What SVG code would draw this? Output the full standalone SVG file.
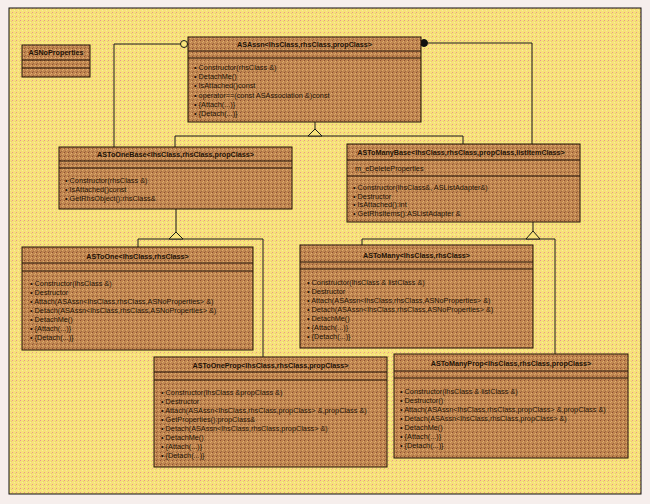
<svg xmlns="http://www.w3.org/2000/svg" width="650" height="504" viewBox="0 0 650 504">
<defs>
<pattern id="bg" width="4" height="4" patternUnits="userSpaceOnUse">
<rect width="4" height="4" fill="#f7e27a"/>
<rect x="0" y="0" width="1" height="1" fill="#e8968c"/>
<rect x="2" y="2" width="1" height="1" fill="#fbeaa0"/>
<rect x="3" y="1" width="1" height="1" fill="#ead070"/>
</pattern>
<pattern id="bx" width="4" height="4" patternUnits="userSpaceOnUse">
<rect width="4" height="4" fill="#c08650"/>
<rect x="0" y="0" width="1" height="1" fill="#8c4c32"/>
<rect x="2" y="2" width="1" height="1" fill="#dca66c"/>
<rect x="1" y="3" width="1" height="1" fill="#9c6a40"/>
<rect x="3" y="1" width="1" height="1" fill="#e0b070"/>
</pattern>
</defs>
<style>
.box{fill:url(#bx);stroke:#241408;stroke-width:1}
.div{stroke:#241408;stroke-width:1}
.t{font-family:"Liberation Sans",Arial,sans-serif;font-size:7.2px;font-weight:bold;fill:#1e1206;text-anchor:middle}
.m{font-family:"Liberation Sans",Arial,sans-serif;font-size:7.3px;fill:#1e1206}
.conn{fill:none;stroke:#1a1a1a;stroke-width:1}
.tri{fill:#f7e27a;stroke:#1a1a1a;stroke-width:1}
</style>
<rect width="650" height="504" fill="#f6eeec"/>
<rect x="9" y="8" width="632" height="486" fill="url(#bg)" stroke="#111" stroke-width="1"/>

<g id="connectors">
<circle cx="184" cy="44" r="3.5" fill="#f7e27a" stroke="#1a1a1a"/>
<path class="conn" d="M180.5,44 H114 V147"/>
<circle cx="424" cy="43" r="3.5" fill="#111" stroke="#111"/>
<path class="conn" d="M427.5,43 H532 V144"/>
<path class="conn" d="M315,122 V129"/>
<path class="conn" d="M175,147 V136 H463 V144"/>
<path class="tri" d="M315,129 L308,136 L322,136 Z"/>
<path class="conn" d="M176,209 V232"/>
<path class="conn" d="M138,247 V239 H263 V357"/>
<path class="tri" d="M176,232 L169,239 L183,239 Z"/>
<path class="conn" d="M533,222 V231"/>
<path class="conn" d="M362,245 V239 H555 V354"/>
<path class="tri" d="M533,231 L526,239 L540,239 Z"/>
</g>

<g id="ASNoProperties">
<rect class="box" x="22" y="45" width="68" height="32"/>
<line class="div" x1="22" y1="60" x2="90" y2="60"/>
<line class="div" x1="22" y1="68" x2="90" y2="68"/>
<text class="t" x="56" y="55">ASNoProperties</text>
</g>

<g id="ASAssn">
<rect class="box" x="188" y="37" width="233" height="85"/>
<line class="div" x1="188" y1="51" x2="421" y2="51"/>
<line class="div" x1="188" y1="58" x2="421" y2="58"/>
<text class="t" x="304.5" y="46.5">ASAssn&lt;lhsClass,rhsClass,propClass&gt;</text>
<text class="m" x="194" y="70">• Constructor(rhsClass &amp;)</text>
<text class="m" x="194" y="79">• DetachMe()</text>
<text class="m" x="194" y="88">• IsAttached()const</text>
<text class="m" x="194" y="97.5">• operator==(const ASAssociation &amp;)const</text>
<text class="m" x="194" y="106.5">• {Attach(...)}</text>
<text class="m" x="194" y="115.5">• {Detach(...)}</text>
</g>

<g id="ASToOneBase">
<rect class="box" x="59" y="147" width="233" height="62"/>
<line class="div" x1="59" y1="161" x2="292" y2="161"/>
<line class="div" x1="59" y1="168" x2="292" y2="168"/>
<text class="t" x="175.5" y="156.5">ASToOneBase&lt;lhsClass,rhsClass,propClass&gt;</text>
<text class="m" x="65" y="182.5">• Constructor(rhsClass &amp;)</text>
<text class="m" x="65" y="191.5">• IsAttached()const</text>
<text class="m" x="65" y="201">• GetRhsObject():rhsClass&amp;</text>
</g>

<g id="ASToManyBase">
<rect class="box" x="347" y="144" width="233" height="78"/>
<line class="div" x1="347" y1="160" x2="580" y2="160"/>
<line class="div" x1="347" y1="176" x2="580" y2="176"/>
<text class="t" x="461" y="155">ASToManyBase&lt;lhsClass,rhsClass,propClass,listItemClass&gt;</text>
<text class="m" x="355" y="170.5">m_eDeleteProperties</text>
<text class="m" x="353" y="189.5">• Constructor(lhsClass&amp;, ASListAdapter&amp;)</text>
<text class="m" x="353" y="198.5">• Destructor</text>
<text class="m" x="353" y="207">• IsAttached():int</text>
<text class="m" x="353" y="216">• GetRhsItems():ASListAdapter &amp;</text>
</g>

<g id="ASToOne">
<rect class="box" x="22" y="247" width="231" height="103"/>
<line class="div" x1="22" y1="263" x2="253" y2="263"/>
<line class="div" x1="22" y1="271" x2="253" y2="271"/>
<text class="t" x="137.5" y="258.5">ASToOne&lt;lhsClass,rhsClass&gt;</text>
<text class="m" x="30" y="285.5">• Constructor(lhsClass &amp;)</text>
<text class="m" x="30" y="294.6">• Destructor</text>
<text class="m" x="30" y="303.7">• Attach(ASAssn&lt;lhsClass,rhsClass,ASNoProperties&gt; &amp;)</text>
<text class="m" x="30" y="312.8">• Detach(ASAssn&lt;lhsClass,rhsClass,ASNoProperties&gt; &amp;)</text>
<text class="m" x="30" y="321.9">• DetachMe()</text>
<text class="m" x="30" y="331">• {Attach(...)}</text>
<text class="m" x="30" y="340.1">• {Detach(...)}</text>
</g>

<g id="ASToMany">
<rect class="box" x="300" y="245" width="233" height="103"/>
<line class="div" x1="300" y1="262" x2="533" y2="262"/>
<line class="div" x1="300" y1="269" x2="533" y2="269"/>
<text class="t" x="416.5" y="257.5">ASToMany&lt;lhsClass,rhsClass&gt;</text>
<text class="m" x="307" y="284.5">• Constructor(lhsClass &amp; listClass &amp;)</text>
<text class="m" x="307" y="293.6">• Destructor</text>
<text class="m" x="307" y="302.7">• Attach(ASAssn&lt;lhsClass,rhsClass,ASNoProperties&gt; &amp;)</text>
<text class="m" x="307" y="311.8">• Detach(ASAssn&lt;lhsClass,rhsClass,ASNoProperties&gt; &amp;)</text>
<text class="m" x="307" y="320.9">• DetachMe()</text>
<text class="m" x="307" y="330">• {Attach(...)}</text>
<text class="m" x="307" y="339.1">• {Detach(...)}</text>
</g>

<g id="ASToOneProp">
<rect class="box" x="154" y="357" width="233" height="110"/>
<line class="div" x1="154" y1="372" x2="387" y2="372"/>
<line class="div" x1="154" y1="380" x2="387" y2="380"/>
<text class="t" x="270.5" y="367.5">ASToOneProp&lt;lhsClass,rhsClass,propClass&gt;</text>
<text class="m" x="161" y="394.5">• Constructor(lhsClass &amp;propClass &amp;)</text>
<text class="m" x="161" y="403.6">• Destructor</text>
<text class="m" x="161" y="412.7">• Attach(ASAssn&lt;lhsClass,rhsClass,propClass&gt; &amp;,propClass &amp;)</text>
<text class="m" x="161" y="421.8">• GetProperties():propClass&amp;</text>
<text class="m" x="161" y="430.9">• Detach(ASAssn&lt;lhsClass,rhsClass,propClass&gt; &amp;)</text>
<text class="m" x="161" y="440">• DetachMe()</text>
<text class="m" x="161" y="449.1">• {Attach(...)}</text>
<text class="m" x="161" y="458.2">• {Detach(...)}</text>
</g>

<g id="ASToManyProp">
<rect class="box" x="394" y="354" width="234" height="104"/>
<line class="div" x1="394" y1="371" x2="628" y2="371"/>
<line class="div" x1="394" y1="378" x2="628" y2="378"/>
<text class="t" x="511" y="365.5">ASToManyProp&lt;lhsClass,rhsClass,propClass&gt;</text>
<text class="m" x="400" y="393.5">• Constructor(lhsClass &amp; listClass &amp;)</text>
<text class="m" x="400" y="402.5">• Destructor()</text>
<text class="m" x="400" y="411.5">• Attach(ASAssn&lt;lhsClass,rhsClass,propClass&gt; &amp;,propClass &amp;)</text>
<text class="m" x="400" y="420.5">• Detach(ASAssn&lt;lhsClass,rhsClass,propClass&gt; &amp;)</text>
<text class="m" x="400" y="429.5">• DetachMe()</text>
<text class="m" x="400" y="438.5">• {Attach(...)}</text>
<text class="m" x="400" y="447.5">• {Detach(...)}</text>
</g>
</svg>
